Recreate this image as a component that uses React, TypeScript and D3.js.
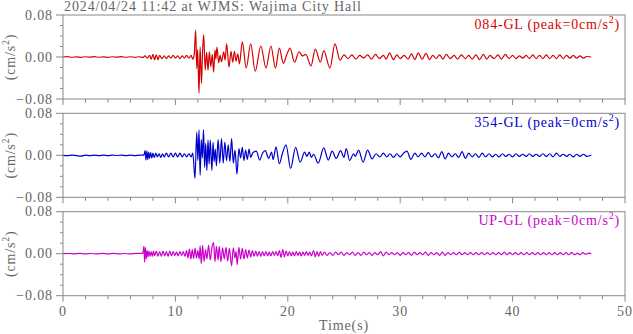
import React from "react";
import * as d3 from "d3";

const TITLE = "2024/04/24 11:42 at WJMS: Wajima City Hall";
const componentNames = ["084-GL", "354-GL", "UP-GL"];
const peakValues = [0, 0, 0];
const traceColors = ["#d40000", "#0000cc", "#cc00cc"];
const xTickValues = [0, 10, 20, 30, 40, 50];
const xMinorTicks = d3.range(0, 51, 2);
const yTickValues = [0.08, 0, -0.08];
const yMinorTicks = [0.06, 0.04, 0.02, -0.02, -0.04, -0.06];

type P = [number, number];

const ewTrace: P[] = [
  [0, 0], [0.4, 0.0006], [0.8, -0.0005], [1.2, 0.0004], [1.6, -0.0006], [2.0, 0.0005], [2.4, -0.0004], [2.8, 0.0006],
  [3.2, -0.0005], [3.6, 0.0004], [4.0, -0.0006], [4.4, 0.0005], [4.8, -0.0004], [5.2, 0.0006], [5.6, -0.0005],
  [6.0, 0.0005], [6.4, -0.0006], [6.8, 0.0005],
  [7.1, -0.001], [7.3, 0.002], [7.5, -0.002], [7.7, 0.003], [7.85, -0.004], [8.0, 0.005], [8.15, -0.005], [8.3, 0.004],
  [8.45, -0.005], [8.6, 0.003], [8.8, -0.003], [9.0, 0.002], [9.2, -0.003], [9.4, 0.002], [9.6, -0.002], [9.8, 0.003],
  [10.0, -0.002], [10.2, 0.002], [10.4, -0.003], [10.6, 0.002], [10.8, -0.002], [11.0, 0.003], [11.2, -0.002],
  [11.4, 0.003], [11.55, -0.004], [11.68, 0.006],
  [11.8, 0.051], [11.9, -0.022], [11.98, 0.014], [12.1, -0.069], [12.2, 0.019], [12.32, -0.05], [12.42, 0.012],
  [12.52, 0.042], [12.65, -0.025], [12.78, 0.009], [12.9, -0.025], [13.02, 0.01], [13.15, -0.018], [13.28, 0.005],
  [13.4, -0.029], [13.52, 0.013], [13.6, -0.004], [13.7, 0.019], [13.85, -0.011], [13.98, 0.003], [14.1, -0.009],
  [14.3, 0.01], [14.42, -0.006], [14.56, 0.025], [14.77, -0.019], [14.95, 0.011], [15.1, -0.01], [15.25, 0.011],
  [15.4, -0.008], [15.55, 0.006], [15.7, -0.013], [15.95, 0.029], [16.3, -0.021], [16.7, 0.025], [17.1, -0.027],
  [17.6, 0.021], [18.06, -0.021], [18.5, 0.021], [18.9, -0.021], [19.25, 0.017], [19.6, -0.012], [19.9, 0.004],
  [20.2, 0.017], [20.6, -0.01], [21.0, 0.01], [21.3, 0.002], [21.6, 0.005], [22.06, -0.017], [22.45, 0.015],
  [22.9, -0.01], [23.2, 0.012], [23.75, -0.021], [24.2, 0.025], [24.65, -0.006],
  [25.0, 0.004], [25.35, -0.003], [25.7, 0.004], [26.05, -0.004], [26.4, 0.003], [26.75, -0.002], [27.1, 0.004],
  [27.45, -0.004], [27.8, 0.005], [28.15, -0.003], [28.5, 0.003], [28.75, -0.004], [29.05, 0.008], [29.4, -0.005],
  [29.7, 0.004], [30.0, -0.003], [30.35, 0.003], [30.7, -0.004], [31.0, 0.006], [31.3, -0.005], [31.6, 0.008],
  [31.95, -0.004], [32.3, 0.007], [32.6, -0.005], [32.9, 0.003], [33.2, -0.003], [33.5, 0.004], [33.8, -0.004],
  [34.1, 0.005], [34.45, -0.003], [34.8, 0.003], [35.1, -0.004], [35.45, 0.004], [35.8, -0.003], [36.1, 0.003],
  [36.4, -0.004], [36.75, 0.004], [37.05, -0.005], [37.4, 0.005], [37.7, -0.004], [38.0, 0.003], [38.35, -0.003],
  [38.7, 0.004], [39.0, -0.004], [39.35, 0.005], [39.7, -0.003], [40.0, 0.003], [40.3, -0.003], [40.6, 0.002],
  [40.9, -0.002], [41.2, 0.003], [41.5, -0.003], [41.8, 0.004], [42.1, -0.003], [42.4, 0.003], [42.7, -0.003],
  [43.0, 0.004], [43.3, -0.003], [43.6, 0.003], [43.9, -0.003], [44.2, 0.004], [44.5, -0.003], [44.8, 0.003],
  [45.1, -0.002], [45.4, 0.003], [45.7, -0.002], [46.0, 0.002], [46.3, -0.002], [46.6, 0.001], [47.0, 0],
];

const nsTrace: P[] = [
  [0, 0], [0.4, -0.0005], [0.8, 0.0004], [1.2, -0.0006], [1.6, -0.0015], [2.0, 0.0003], [2.4, -0.0005],
  [2.8, 0.0004], [3.2, -0.0005], [3.6, 0.0004], [4.0, -0.0006], [4.4, 0.0005], [4.8, -0.0004], [5.2, 0.0005],
  [5.6, -0.0005], [6.0, 0.0004], [6.4, -0.0006], [6.8, 0.0005], [7.2, 0.0005],
  [7.3, 0.009], [7.38, -0.009], [7.46, 0.008], [7.54, -0.008], [7.62, 0.006], [7.7, -0.006], [7.8, 0.005],
  [7.9, -0.005], [8.0, 0.004], [8.12, -0.004], [8.25, 0.004], [8.4, -0.003], [8.55, 0.003], [8.7, -0.004],
  [8.85, 0.003], [9.0, -0.003], [9.2, 0.004], [9.4, -0.003], [9.6, 0.004], [9.8, -0.003], [10.0, 0.004],
  [10.2, -0.003], [10.4, 0.004], [10.6, -0.003], [10.8, 0.003], [11.0, -0.003], [11.2, 0.003], [11.4, -0.003],
  [11.55, 0.004],
  [11.74, -0.044], [11.9, 0.044], [12.0, -0.01], [12.1, 0.048], [12.2, -0.038], [12.3, 0.03], [12.4, -0.005],
  [12.5, 0.049], [12.6, -0.023], [12.7, 0.023], [12.8, -0.029], [12.9, 0.029], [13.0, -0.017], [13.1, 0.029],
  [13.25, -0.029], [13.35, 0.025], [13.45, -0.012], [13.55, 0.012], [13.65, -0.02], [13.8, 0.03], [13.95, -0.015],
  [14.1, 0.032], [14.25, -0.015], [14.4, 0.025], [14.55, -0.01], [14.7, 0.02], [14.85, -0.012], [15.0, 0.032],
  [15.15, -0.015], [15.3, 0.01], [15.48, -0.036], [15.65, 0.013], [15.8, -0.005], [15.95, 0.015], [16.1, -0.01],
  [16.25, 0.01], [16.4, -0.008], [16.55, 0.012], [16.7, -0.004],
  [16.9, 0.005], [17.2, 0.008], [17.5, -0.009], [17.75, 0.004], [18.0, 0.009], [18.3, -0.006], [18.55, 0.006],
  [18.7, -0.008], [18.95, 0.016], [19.25, -0.016], [19.5, 0.002], [19.84, 0.02], [20.25, -0.025], [20.7, 0.015],
  [21.1, -0.013], [21.5, 0.006], [21.7, -0.002], [21.9, 0.006], [22.1, -0.004], [22.3, 0.002], [22.7, -0.015],
  [23.2, 0.014], [23.6, -0.009], [23.95, 0.008], [24.3, -0.006], [24.7, 0.009], [25.0, -0.004], [25.2, 0.013],
  [25.5, -0.01], [25.85, 0.003], [26.0, -0.002], [26.3, 0.01], [26.7, -0.013], [27.1, 0.01], [27.5, -0.007],
  [27.85, 0.003], [28.2, -0.003], [28.5, 0.004], [28.8, -0.003], [29.1, 0.003], [29.4, -0.004], [29.7, 0.003],
  [30.0, -0.003], [30.3, 0.004], [30.6, 0.008], [30.95, -0.008], [31.3, 0.004], [31.6, -0.003], [31.9, 0.004],
  [32.2, -0.003], [32.5, 0.005], [32.8, -0.003], [33.1, 0.003], [33.4, -0.005], [33.7, 0.007], [34.0, -0.007],
  [34.3, 0.004], [34.6, -0.003], [34.9, 0.003], [35.2, -0.004], [35.5, 0.007], [35.8, -0.006], [36.1, 0.004],
  [36.4, -0.003], [36.7, 0.003], [37.0, -0.004], [37.3, 0.004], [37.6, -0.003], [37.9, 0.003], [38.2, -0.003],
  [38.5, 0.002], [38.8, -0.003], [39.1, 0.003], [39.4, -0.002], [39.7, 0.002], [40.0, -0.003], [40.3, 0.003],
  [40.6, -0.002], [40.9, 0.002], [41.2, -0.002], [41.5, 0.003], [41.8, -0.002], [42.1, 0.002], [42.4, -0.002],
  [42.7, 0.003], [43.0, -0.002], [43.3, 0.003], [43.6, -0.003], [43.9, 0.004], [44.2, -0.002], [44.5, 0.002],
  [44.8, -0.002], [45.1, 0.002], [45.4, -0.003], [45.7, 0.002], [46.0, -0.002], [46.3, 0.002], [46.6, -0.002],
  [47.0, 0],
];

const udTrace: P[] = [
  [0, 0], [0.5, 0.0004], [1.0, -0.0004], [1.5, 0.0005], [2.0, -0.0004], [2.5, 0.0004], [3.0, -0.0005],
  [3.5, 0.0006], [4.0, -0.0004], [4.5, 0.0005], [5.0, -0.0005], [5.5, 0.0004], [6.0, -0.0005], [6.5, 0.0005],
  [7.1, 0.0005],
  [7.2, 0.014], [7.26, -0.016], [7.33, 0.012], [7.4, -0.01], [7.48, 0.006], [7.56, -0.006], [7.65, 0.005],
  [7.75, -0.005], [7.85, 0.004], [7.95, -0.005], [8.05, 0.005], [8.15, -0.004], [8.3, 0.005], [8.45, -0.005],
  [8.6, 0.004], [8.75, -0.005], [8.9, 0.005], [9.05, -0.004], [9.2, 0.004], [9.35, -0.005], [9.5, 0.005],
  [9.65, -0.004], [9.8, 0.004], [9.95, -0.003], [10.1, 0.003], [10.25, -0.004], [10.4, 0.004], [10.55, -0.003],
  [10.7, 0.004], [10.85, -0.005], [11.0, 0.006], [11.12, -0.008], [11.25, 0.009], [11.38, -0.01], [11.5, 0.008],
  [11.62, -0.009], [11.75, 0.01], [11.88, -0.008], [12.0, 0.006], [12.12, -0.01], [12.2, 0.015], [12.3, -0.019],
  [12.42, 0.016], [12.55, -0.015], [12.68, 0.008], [12.8, -0.01], [12.95, 0.016], [13.1, -0.012], [13.25, 0.012],
  [13.4, 0.021], [13.52, -0.015], [13.65, 0.014], [13.8, -0.012], [13.9, 0.014], [14.05, -0.015], [14.2, 0.011],
  [14.35, -0.01], [14.5, 0.012], [14.65, -0.014], [14.8, 0.01], [15.0, -0.023], [15.15, 0.011], [15.3, -0.008],
  [15.4, 0.004], [15.5, -0.021], [15.65, 0.012], [15.8, -0.01], [15.95, 0.01], [16.1, -0.01], [16.25, 0.008],
  [16.4, -0.008], [16.55, 0.007], [16.7, -0.006], [16.85, 0.006], [17.0, -0.005], [17.15, 0.005], [17.3, -0.005],
  [17.45, 0.004], [17.6, -0.005], [17.75, 0.004], [17.9, -0.004], [18.05, 0.004], [18.2, -0.004], [18.35, 0.003],
  [18.5, -0.004], [18.65, 0.004], [18.8, -0.003], [18.95, 0.004], [19.1, -0.004], [19.25, 0.006], [19.4, -0.007],
  [19.55, 0.008], [19.7, -0.006], [19.85, 0.005], [20.0, -0.004], [20.15, 0.004], [20.3, -0.004], [20.45, 0.003],
  [20.6, -0.004], [20.75, 0.004], [20.9, -0.003], [21.05, 0.003], [21.2, -0.004], [21.35, 0.003], [21.5, -0.003],
  [21.65, 0.004], [21.8, -0.003], [21.95, 0.003], [22.1, -0.004], [22.3, 0.006], [22.45, -0.006], [22.6, 0.004],
  [22.75, -0.005], [22.9, 0.004], [23.05, -0.003],
  [23.25, 0.003], [23.5, -0.003], [23.75, 0.002], [24.0, -0.003], [24.25, 0.003], [24.5, -0.002], [24.75, 0.003],
  [25.0, -0.003], [25.25, 0.002], [25.5, -0.002], [25.75, 0.003], [26.0, -0.003], [26.25, 0.002], [26.5, -0.003],
  [26.75, 0.003], [27.0, -0.002], [27.25, 0.002], [27.5, -0.003], [27.75, 0.002], [28.0, -0.002], [28.25, 0.004],
  [28.5, -0.004], [28.75, 0.003], [29.0, -0.002], [29.25, 0.002], [29.5, -0.002], [29.75, 0.002], [30.0, -0.003],
  [30.25, 0.002], [30.5, -0.002], [30.75, 0.002], [31.0, -0.003], [31.25, 0.003], [31.5, -0.002], [31.75, 0.002],
  [32.0, -0.002], [32.25, 0.003], [32.5, -0.003], [32.75, 0.002], [33.0, -0.002], [33.25, 0.002], [33.5, -0.003],
  [33.75, 0.003], [34.0, -0.003], [34.25, 0.002], [34.5, -0.002], [34.75, 0.002], [35.0, -0.002], [35.25, 0.003],
  [35.5, -0.002], [35.75, 0.002], [36.0, -0.002], [36.25, 0.002], [36.5, -0.002], [36.75, 0.002], [37.0, -0.002],
  [37.25, 0.002], [37.5, -0.002], [37.75, 0.002], [38.0, -0.002], [38.25, 0.002], [38.5, -0.002], [38.75, 0.002],
  [39.0, -0.002], [39.25, 0.003], [39.5, -0.002], [39.75, 0.002], [40.0, -0.002], [40.25, 0.002], [40.5, -0.002],
  [40.75, 0.002], [41.0, -0.002], [41.25, 0.002], [41.5, -0.002], [41.75, 0.002], [42.0, -0.002], [42.25, 0.002],
  [42.5, -0.002], [42.75, 0.002], [43.0, -0.002], [43.25, 0.002], [43.5, -0.002], [43.75, 0.002], [44.0, -0.002],
  [44.25, 0.002], [44.5, -0.002], [44.75, 0.002], [45.0, -0.002], [45.25, 0.002], [45.5, -0.002], [45.75, 0.001],
  [46.0, -0.002], [46.25, 0.002], [46.5, -0.001], [46.75, 0.001], [47.0, 0],
];

const traces = [ewTrace, nsTrace, udTrace];

const W = 633;
const H = 334;
const LEFT = 63;
const RIGHT = 625;
const PANEL_TOPS = [15, 113.3, 211.7];
const PANEL_H = 84;
const FONT = "'Liberation Serif', 'Times New Roman', serif";
const AXIS_COLOR = "#888888";
const TEXT_COLOR = "#666666";

export default function App() {
  const x = d3.scaleLinear().domain([0, 50]).range([LEFT, RIGHT]);
  const fmt = d3.format(".2f");
  return (
    <svg width={W} height={H} style={{ position: "absolute", left: 0, top: 0, background: "#fff" }}
      fontFamily={FONT}>
      <defs>
        {PANEL_TOPS.map((top, i) => (
          <clipPath id={`clip${i}`} key={i}>
            <rect x={LEFT} y={top} width={RIGHT - LEFT} height={PANEL_H} />
          </clipPath>
        ))}
      </defs>
      <text x={64} y={11} fontSize={14} letterSpacing={0.9} fill={TEXT_COLOR}>{TITLE}</text>
      {PANEL_TOPS.map((top, i) => {
        const y = d3.scaleLinear().domain([-0.08, 0.08]).range([top + PANEL_H, top]);
        const line = d3.line<P>().x((d) => x(d[0])).y((d) => y(d[1])).curve(d3.curveMonotoneX);
        const mid = top + PANEL_H / 2;
        return (
          <g key={i}>
            <g clipPath={`url(#clip${i})`}>
              <path d={line(traces[i]) || ""} fill="none" stroke={traceColors[i]} strokeWidth={1.2}
                strokeLinejoin="round" />
            </g>
            <rect x={LEFT} y={top} width={RIGHT - LEFT} height={PANEL_H} fill="none" stroke={AXIS_COLOR}
              strokeWidth={1} />
            {xMinorTicks.map((t) => (
              <line key={t} x1={x(t)} x2={x(t)} y1={top + PANEL_H} y2={top + PANEL_H + (t % 10 === 0 ? 6 : 3.5)}
                stroke={AXIS_COLOR} strokeWidth={1} />
            ))}
            {yMinorTicks.map((v) => (
              <line key={v} x1={LEFT - 3} x2={LEFT} y1={y(v)} y2={y(v)} stroke={AXIS_COLOR} strokeWidth={1} />
            ))}
            {yTickValues.map((v) => (
              <g key={v}>
                <line x1={LEFT - 7} x2={LEFT} y1={y(v)} y2={y(v)} stroke={AXIS_COLOR} strokeWidth={1} />
                <text x={53} y={y(v) + 4.5} fontSize={14} letterSpacing={0.9} textAnchor="end" fill={TEXT_COLOR}>
                  {fmt(v)}
                </text>
              </g>
            ))}
            <text transform={`translate(15,${mid}) rotate(-90)`} fontSize={14} letterSpacing={0.8}
              textAnchor="middle" fill={TEXT_COLOR}>
              (cm/s<tspan dy={-6} fontSize={10}>2</tspan><tspan dy={6}>)</tspan>
            </text>
            <text x={620} y={top + 13.5} fontSize={14} letterSpacing={0.8} textAnchor="end" fill={traceColors[i]}>
              {componentNames[i]} (peak={peakValues[i]}cm/s<tspan dy={-6} fontSize={10}>2</tspan>
              <tspan dy={6}>)</tspan>
            </text>
          </g>
        );
      })}
      {xTickValues.map((t) => (
        <text key={t} x={x(t)} y={316} fontSize={14} letterSpacing={0.9} textAnchor="middle" fill={TEXT_COLOR}>
          {t}
        </text>
      ))}
      <text x={(LEFT + RIGHT) / 2} y={330} fontSize={14} letterSpacing={0.9} textAnchor="middle" fill={TEXT_COLOR}>
        Time(s)
      </text>
    </svg>
  );
}
